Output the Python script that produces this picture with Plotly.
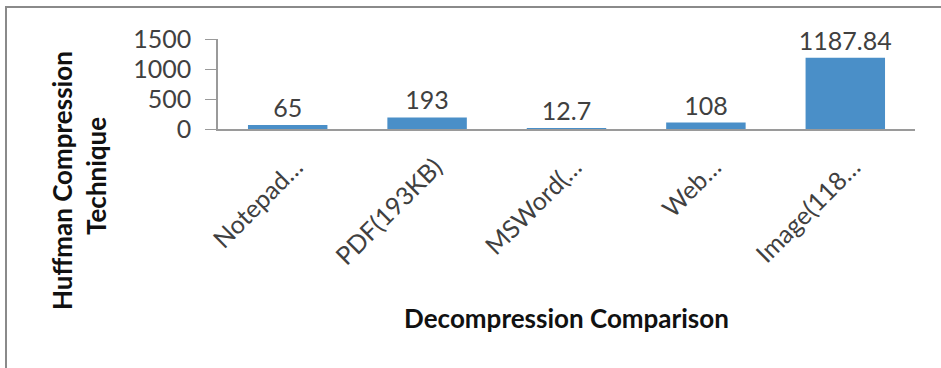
import plotly.graph_objects as go

categories = ["Notepad…", "PDF(193KB)", "MSWord(…", "Web…", "Image(118…"]
values = [65, 193, 12.7, 108, 1187.84]
y_ticks = [0, 500, 1000, 1500]

BAR = "#4a8fc8"
AXIS = "#9a9a9a"
TEXT = "#404040"
FONT = "Lato"

fig = go.Figure(
    go.Bar(
        x=categories,
        y=values,
        marker=dict(color=BAR, line=dict(width=0)),
        width=0.57,
        text=[f"{v:g}" for v in values],
        textposition="outside",
        constraintext="none",
        textfont=dict(family=FONT, size=25, color=TEXT),
        cliponaxis=False,
    )
)

fig.update_layout(
    width=941,
    height=368,
    margin=dict(l=218, r=26, t=39, b=239),
    paper_bgcolor="white",
    plot_bgcolor="white",
    showlegend=False,
    font=dict(family=FONT, color=TEXT),
    xaxis=dict(
        tickangle=-45,
        tickfont=dict(family=FONT, size=25, color=TEXT),
        ticklabelstandoff=12,
        ticklabelshift=8,
        showline=True,
        linecolor=AXIS,
        linewidth=1.5,
        ticks="",
        showgrid=False,
        title=dict(
            text="<b>Decompression Comparison</b>",
            font=dict(family=FONT, size=26, color="#111"),
            standoff=41,
        ),
    ),
    yaxis=dict(
        range=[0, 1500],
        tickvals=y_ticks,
        tickfont=dict(family=FONT, size=25, color=TEXT),
        showline=True,
        linecolor=AXIS,
        linewidth=1.5,
        ticks="outside",
        ticklen=11,
        tickcolor=AXIS,
        ticklabelstandoff=9,
        showgrid=False,
        zeroline=False,
    ),
    annotations=[
        dict(
            text="<b>Huffman Compression</b>",
            xref="paper", yref="paper",
            x=(62 - 218) / 697, y=(129 - 181) / 90,
            xanchor="center", yanchor="middle",
            textangle=-90, showarrow=False,
            font=dict(family=FONT, size=26, color="#111"),
        ),
        dict(
            text="<b>Technique</b>",
            xref="paper", yref="paper",
            x=(96 - 218) / 697, y=(129 - 176) / 90,
            xanchor="center", yanchor="middle",
            textangle=-90, showarrow=False,
            font=dict(family=FONT, size=26, color="#111"),
        ),
    ],
    shapes=[
        dict(
            type="rect", xref="paper", yref="paper",
            x0=(6 - 218) / 697, x1=(990 - 218) / 697,
            y0=(129 - 400) / 90, y1=(129 - 7) / 90,
            line=dict(color="#8a8a8a", width=2),
            fillcolor="rgba(0,0,0,0)",
            layer="below",
        )
    ],
)

fig.write_html("out.html")
